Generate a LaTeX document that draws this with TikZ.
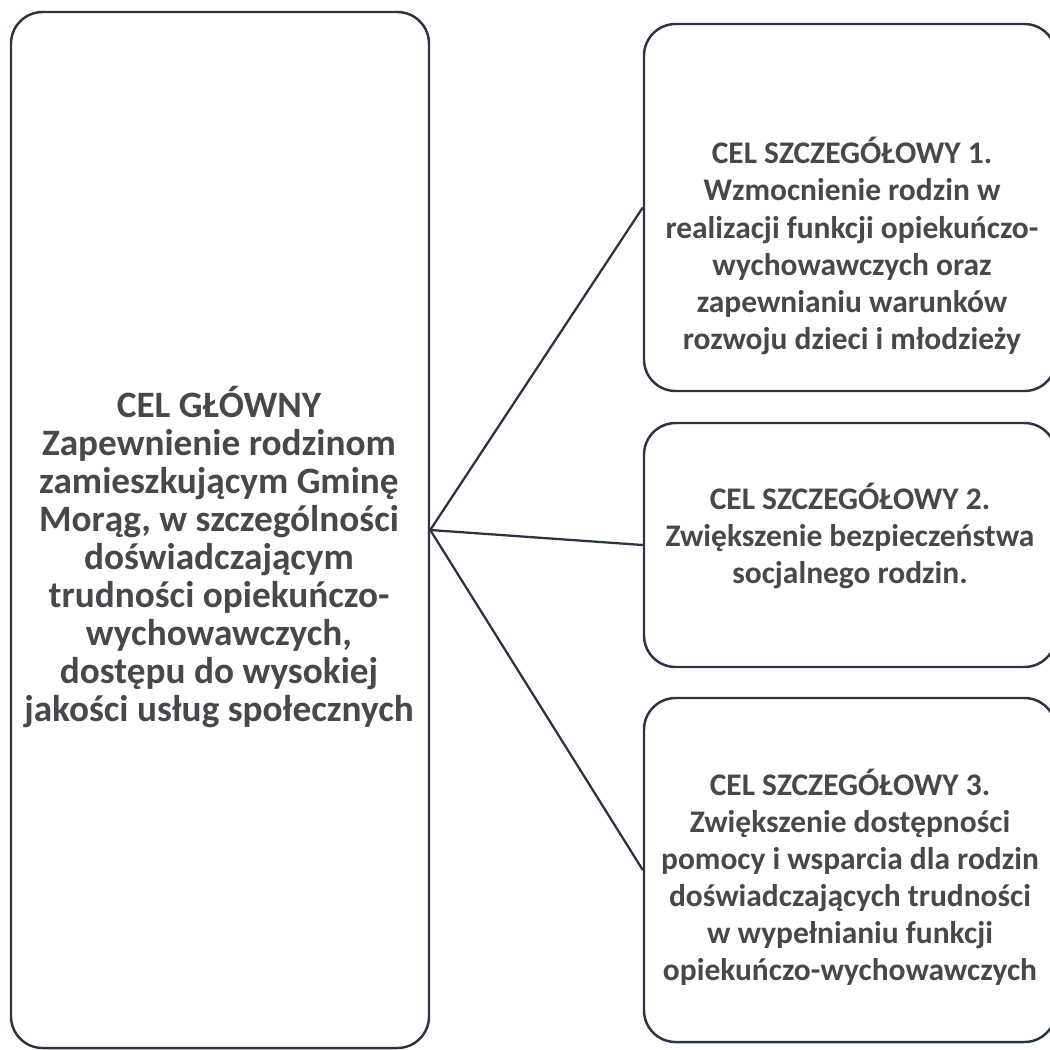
\documentclass[tikz,border=0pt]{standalone}
\usepackage{fontspec}
\setmainfont{Carlito}
\usepackage{xcolor}
\usetikzlibrary{calc}

\definecolor{ramka}{RGB}{44,52,68}
\definecolor{tekst}{RGB}{72,72,76}

\begin{document}
\begin{tikzpicture}[x=0.1mm,y=-0.1mm,line width=0.7pt]
  \tikzstyle{cel}=[draw=ramka,rounded corners=9pt,inner sep=0pt]
  \tikzstyle{opis}=[text=tekst,align=center,font=\fontsize{10.6}{10.8}\selectfont\bfseries]
  \tikzstyle{opismaly}=[opis,font=\fontsize{8.95}{10.55}\selectfont\bfseries]
  \tikzstyle{lacz}=[draw=ramka,line width=0.65pt]

  \useasboundingbox (0,0) rectangle (1050,1049);

  % boxes
  \node[cel,minimum width=418*0.1mm,minimum height=1036*0.1mm] (glowny) at (220,530) {};
  \node[cel,minimum width=412*0.1mm,minimum height=367*0.1mm]  (sz1)    at (850,207.5) {};
  \node[cel,minimum width=412*0.1mm,minimum height=244*0.1mm]  (sz2)    at (850,545) {};
  \node[cel,minimum width=412*0.1mm,minimum height=344*0.1mm]  (sz3)    at (850,870) {};

  % texts
  \node[opis] (glownytxt) at (219,557) {CEL GŁÓWNY\\Zapewnienie rodzinom\\zamieszkującym Gminę\\Morąg, w szczególności\\doświadczającym\\trudności opiekuńczo-\\wychowawczych,\\dostępu do wysokiej\\jakości usług społecznych};
  \node[opismaly] (sz1txt) at (852,246) {CEL SZCZEGÓŁOWY 1.\\Wzmocnienie rodzin w\\realizacji funkcji opiekuńczo-\\wychowawczych oraz\\zapewnianiu warunków\\rozwoju dzieci i młodzieży};
  \node[opismaly] (sz2txt) at (850,536) {CEL SZCZEGÓŁOWY 2.\\Zwiększenie bezpieczeństwa\\socjalnego rodzin.};
  \node[opismaly] (sz3txt) at (850,877) {CEL SZCZEGÓŁOWY 3.\\Zwiększenie dostępności\\pomocy i wsparcia dla rodzin\\doświadczających trudności\\w wypełnianiu funkcji\\opiekuńczo-wychowawczych};

  \path[lacz]
    (glowny.east) edge (sz1.west)
                  edge (sz2.west)
                  edge (sz3.west);
\end{tikzpicture}
\end{document}
